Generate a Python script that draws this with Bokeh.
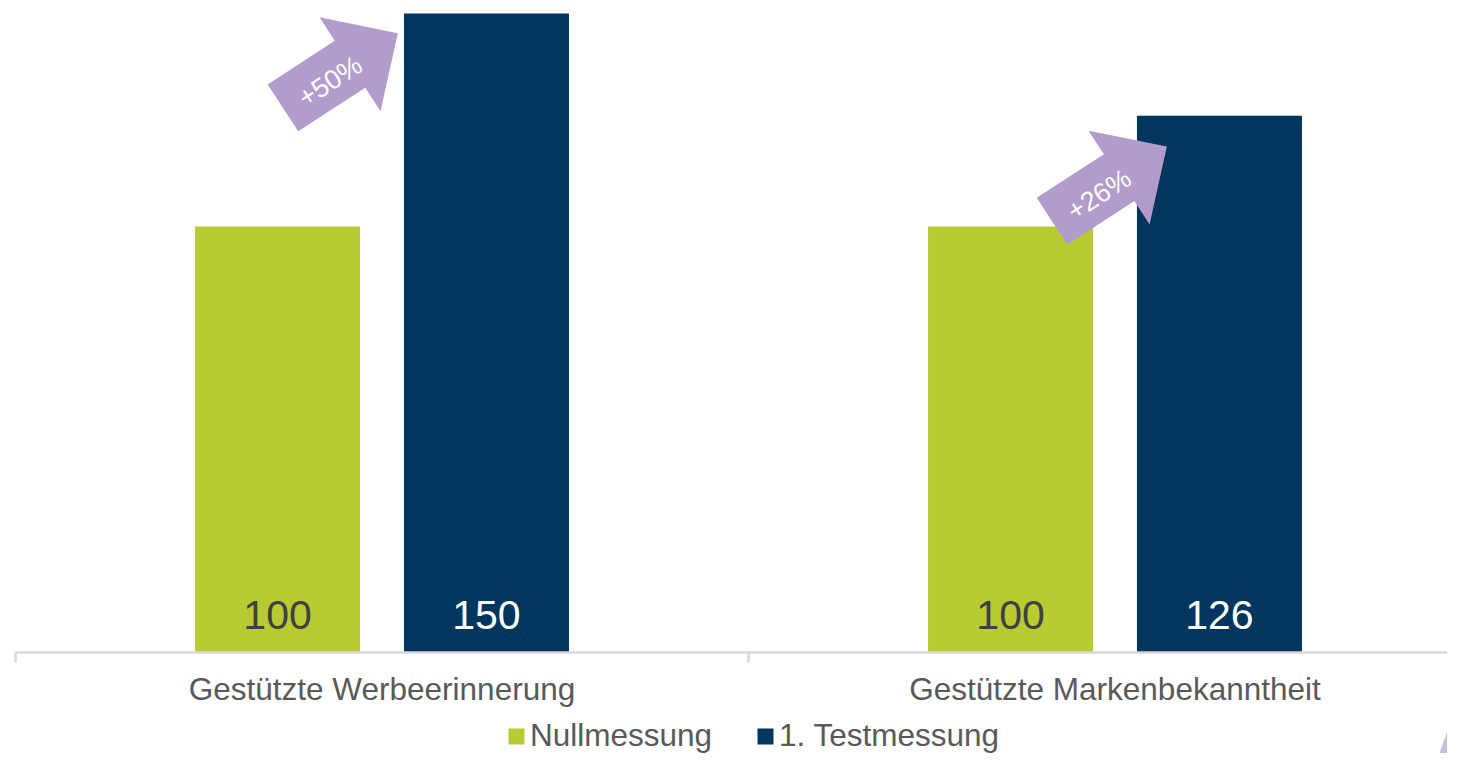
import math
from bokeh.plotting import figure
from bokeh.models import ColumnDataSource, Range1d, Legend, LegendItem
from bokeh.core.properties import value
from bokeh.embed import file_html
from bokeh.resources import INLINE

# ---------------- data ----------------
categories = ["Gestützte Werbeerinnerung", "Gestützte Markenbekanntheit"]
series_names = ["Nullmessung", "1. Testmessung"]
nullmessung = [100, 100]
testmessung = [150, 126]

# ---------------- style / layout ----------------
W, H = 1447, 753
ORIGIN_X, ORIGIN_Y = 15, 652       # screen px (from frame left / top) of data point (0, 0)
PX_X, PX_Y = 733.0, 4.26           # px per data unit
DODGE = 0.1425
BAR_W = 0.2251
GREEN = "#b9cb33"
NAVY = "#00355d"
LAVENDER = "#b29ccb"
LAVENDER_LIGHT = "#cabddd"
AXIS_COLOR = "#d9d9d9"
TEXT_GRAY = "#595959"
FONT = "Liberation Sans"
TICK_PX = 10
VALUE_FS, CAT_FS, LEG_FS, ARROW_FS = 41, 31.5, 31.5, 27
MID_TO_BASE = 0.347                # em distance from text middle to alphabetic baseline

# arrow shape (px, along/perpendicular to arrow axis), angle, text offset
ARROW_SHAPE = [(0, 28), (80, 28), (80, 56), (137, 0), (80, -56), (80, -28), (0, -28)]
ARROW_ANGLE = math.radians(33)
ARROW_TEXT_UV = (54, -3.5)
# arrow centre positions (data coords: x in category units, y in value units)
ARROW_ANCHORS = [(0.4432, 136.6), (1.4924, 110.0)]
# decorative corner shape in frame px (x from left, y from top)
DECOR_PX = [(1433, 769), (1463, 687), (1493, 605), (1493, 769)]

x_range = Range1d(-ORIGIN_X / PX_X, (W - ORIGIN_X) / PX_X)
y_range = Range1d(-(H - ORIGIN_Y) / PX_Y, ORIGIN_Y / PX_Y)

p = figure(width=W, height=H, x_range=x_range, y_range=y_range,
           x_axis_location=None, y_axis_location=None,
           output_backend="svg", toolbar_location=None,
           min_border=0, min_border_left=0, min_border_right=0,
           min_border_top=0, min_border_bottom=0)
p.grid.visible = False
p.outline_line_color = None
p.background_fill_color = "white"
p.border_fill_color = "white"

n = len(categories)
centers = [i + 0.5 for i in range(n)]
x_null = [c - DODGE for c in centers]
x_test = [c + DODGE for c in centers]

src_null = ColumnDataSource(dict(x=x_null, top=nullmessung, label=[str(v) for v in nullmessung]))
src_test = ColumnDataSource(dict(x=x_test, top=testmessung, label=[str(v) for v in testmessung]))

r_null = p.vbar(x="x", top="top", bottom=0, width=BAR_W, source=src_null,
                fill_color=GREEN, line_color=None)
r_test = p.vbar(x="x", top="top", bottom=0, width=BAR_W, source=src_test,
                fill_color=NAVY, line_color=None)

# value labels inside bars at the bottom (baseline ~22px above the axis)
val_off = -23 - MID_TO_BASE * VALUE_FS
p.text(x="x", y=0, text="label", source=src_null, y_offset=val_off,
       text_align="center", text_baseline="middle",
       text_font=value(FONT), text_font_size=f"{VALUE_FS}px", text_color="#404040")
p.text(x="x", y=0, text="label", source=src_test, y_offset=val_off,
       text_align="center", text_baseline="middle",
       text_font=value(FONT), text_font_size=f"{VALUE_FS}px", text_color="white")

# category axis (line + boundary ticks + labels)
p.segment(x0=[0], y0=[0], x1=[n], y1=[0], line_color=AXIS_COLOR, line_width=2.5)
ticks = list(range(n + 1))
p.segment(x0=ticks, y0=[0] * len(ticks), x1=ticks, y1=[-TICK_PX / PX_Y] * len(ticks),
          line_color=AXIS_COLOR, line_width=2.5)
cat_off = 47 - MID_TO_BASE * CAT_FS
p.text(x=centers, y=[0] * n, text=categories, y_offset=cat_off,
       text_align="center", text_baseline="middle",
       text_font=value(FONT), text_font_size=f"{CAT_FS}px", text_color=TEXT_GRAY)

# growth arrows
ca, sa = math.cos(ARROW_ANGLE), math.sin(ARROW_ANGLE)
u_mid = (min(u for u, _ in ARROW_SHAPE) + max(u for u, _ in ARROW_SHAPE)) / 2


def to_data(cx, cy, u, v):
    u = u - u_mid
    dx = u * ca - v * sa
    dy = u * sa + v * ca
    return cx + dx / PX_X, cy + dy / PX_Y


xs, ys, tx, ty, labels = [], [], [], [], []
for (cx, cy), a, b in zip(ARROW_ANCHORS, nullmessung, testmessung):
    pts = [to_data(cx, cy, u, v) for u, v in ARROW_SHAPE]
    xs.append([q[0] for q in pts])
    ys.append([q[1] for q in pts])
    t = to_data(cx, cy, *ARROW_TEXT_UV)
    tx.append(t[0])
    ty.append(t[1])
    labels.append("+%d%%" % round((b / a - 1) * 100))

p.patches(xs=xs, ys=ys, fill_color=LAVENDER, line_color=None)
p.text(x=tx, y=ty, text=labels, angle=ARROW_ANGLE,
       text_align="center", text_baseline="middle",
       text_font=value(FONT), text_font_size=f"{ARROW_FS}px", text_color="white")

# decorative corner shape
dx_ = [(px - ORIGIN_X) / PX_X for px, _ in DECOR_PX]
dy_ = [(ORIGIN_Y - py) / PX_Y for _, py in DECOR_PX]
p.patch(x=dx_, y=dy_, fill_color=LAVENDER_LIGHT, line_color=None)

legend = Legend(items=[LegendItem(label=series_names[0], renderers=[r_null]),
                       LegendItem(label=series_names[1], renderers=[r_test])],
                orientation="horizontal", location=(506, -1),
                glyph_width=20, glyph_height=20, label_standoff=4, spacing=43,
                padding=0, margin=0, border_line_alpha=0, background_fill_alpha=0,
                label_text_font=FONT, label_text_font_size=f"{LEG_FS}px",
                label_text_color=TEXT_GRAY)
p.add_layout(legend)

open("out.html", "w").write(file_html(p, INLINE))
